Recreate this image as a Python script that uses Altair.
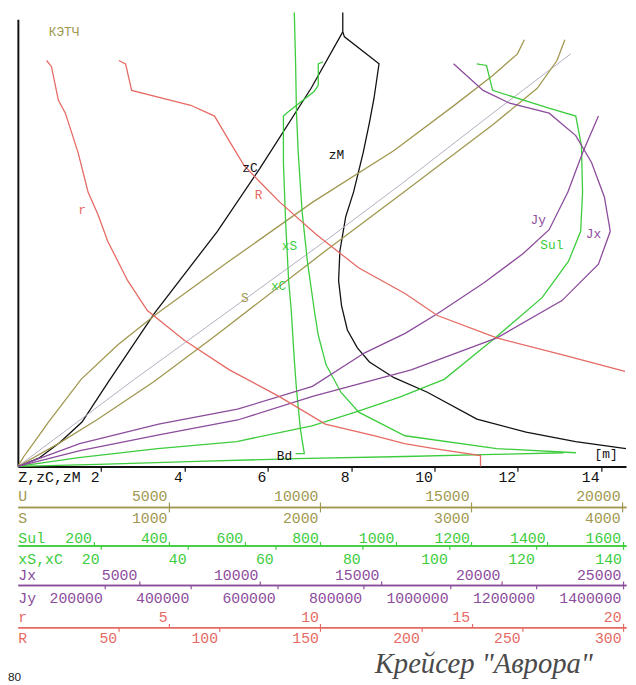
import altair as alt
import pandas as pd

# ---------------- data (each curve in its own unit, T = draft) ----------------
ZC_VAL = [0.02, 0.52, 1.00, 1.54, 2.18, 3.29, 4.79, 5.81, 7.04, 7.80]
ZC_T = [0.0, 0.21, 0.57, 1.07, 2.05, 3.71, 5.67, 7.19, 9.12, 10.48]

ZM_VAL = [7.80, 7.80, 7.84, 8.67, 8.55, 8.44, 8.29, 8.06, 7.87, 7.73, 7.70, 7.77, 7.91,
          8.15, 8.44, 9.03, 9.83, 11.02, 12.20, 13.39, 14.60]
ZM_T = [10.95, 10.48, 10.36, 9.71, 8.88, 8.29, 7.57, 6.62, 6.02, 5.19, 4.48, 3.88, 3.29,
        2.86, 2.52, 2.14, 1.79, 1.14, 0.83, 0.60, 0.43]

U_VAL = [0, 196, 458, 1013, 2092, 3301, 4608, 6895, 9771, 12451, 14412, 15719, 16536, 16765]
U_T = [0, 0.24, 0.50, 1.07, 2.10, 2.93, 3.69, 4.90, 6.38, 7.62, 8.69, 9.43, 9.95, 10.29]

V_VAL = [0, 3856, 7320, 10163, 12778, 15719, 18301]
V_T = [0, 2.10, 3.93, 5.43, 6.86, 8.52, 9.95]

S_VAL = [0, 268, 529, 902, 1314, 2033, 2556, 3144, 3438, 3569, 3621]
S_T = [0, 0.55, 1.14, 2.05, 3.17, 5.19, 6.62, 8.24, 9.12, 9.79, 10.29]

SUL_VAL = [0, 161, 370, 579, 778, 893, 1010, 1128, 1256, 1387, 1457, 1489, 1494, 1491,
           1476, 1405, 1256, 1240, 1214]
SUL_T = [0, 0.21, 0.43, 0.60, 0.98, 1.31, 1.67, 2.10, 3.05, 4.07, 4.95, 5.67, 6.62, 7.74,
         8.45, 8.64, 9.07, 9.67, 9.71]

BD_VAL = [0, 213, 474, 736, 1023, 1259, 1444]
BD_T = [0, 0.05, 0.12, 0.19, 0.24, 0.29, 0.33]

XS_VAL = [71.0, 69.9, 69.9, 69.0, 62.6, 61.9, 61.9, 62.4, 63.1, 63.7, 64.4, 64.9, 65.8, 66.7, 64.7]
XS_T = [9.76, 9.71, 9.19, 9.05, 8.52, 8.45, 7.33, 5.90, 4.48, 3.76, 2.57, 1.86, 0.90, 0.31, 0.31]

XC_VAL = [64.4, 64.7, 64.9, 65.3, 66.2, 67.4, 69.0, 69.9, 71.7, 75.1, 79.2, 89.8, 110.9, 129.1]
XC_T = [10.95, 9.71, 8.52, 7.57, 6.14, 4.95, 3.76, 3.17, 2.45, 1.79, 1.31, 0.74, 0.43, 0.33]

JX_VAL = [0, 2566, 5824, 9083, 12178, 16251, 19795, 22483, 23990, 24479, 24235, 23705,
          23053, 21953, 20324, 19224, 18003]
JX_T = [0, 0.38, 0.76, 1.12, 1.69, 2.33, 3.10, 4.00, 4.88, 5.67, 6.50, 7.33, 7.98, 8.52,
        8.76, 9.07, 9.71]

JY_VAL = [0, 143000, 325600, 508100, 681500, 802400, 896000, 971300, 1078500, 1169800,
          1229100, 1272500, 1306700, 1343200]
JY_T = [0, 0.55, 1.02, 1.38, 1.93, 2.74, 3.21, 3.69, 4.43, 5.14, 5.71, 6.62, 7.57, 8.45]

RS_VAL = [0.95, 1.11, 1.34, 1.57, 1.99, 2.32, 2.65, 2.97, 3.63, 4.28, 5.49, 6.99, 8.63,
          10.16, 11.80, 12.78, 13.76, 15.29, 15.29]
RS_T = [9.79, 9.64, 8.83, 8.52, 7.57, 6.62, 6.07, 5.43, 4.48, 3.76, 3.05, 2.33, 1.69,
        1.02, 0.74, 0.55, 0.43, 0.26, 0]

RL_VAL = [50.0, 53.4, 56.4, 75.9, 85.7, 97.5, 105.3, 112.1, 120.0, 129.7, 147.8, 168.9,
          191.9, 208.0, 237.4, 270.1, 301.0]
RL_T = [9.79, 9.71, 9.07, 8.83, 8.71, 8.45, 7.81, 7.26, 6.86, 6.38, 5.60, 4.79, 4.17,
        3.64, 3.10, 2.69, 2.29]

# axis tick values
Z_TICKS = [2, 4, 6, 8, 10, 12, 14]
U_TICKS = [5000, 10000, 15000, 20000]
S_TICKS = [1000, 2000, 3000, 4000]
SUL_TICKS = [200, 400, 600, 800, 1000, 1200, 1400, 1600]
XSC_TICKS = [20, 40, 60, 80, 100, 120, 140]
JX_TICKS = [5000, 10000, 15000, 20000, 25000]
JY_TICKS = [200000, 400000, 600000, 800000, 1000000, 1200000, 1400000]
RS_TICKS = [5, 10, 15, 20]
RL_TICKS = [50, 100, 150, 200, 250, 300]

# in-plot labels (positioned in metres / draft)
LABEL_TEXT = ["КЭТЧ", "r", "R", "zC", "zM", "xS", "xC", "S", "Jy", "Jx", "Sul", "Bd", "[m]"]
LABEL_Z = [1.11, 1.54, 5.78, 5.57, 7.65, 6.52, 6.26, 5.45, 12.49, 13.82, 12.82, 6.40, 14.12]
LABEL_T = [10.48, 6.19, 6.55, 7.19, 7.50, 5.31, 4.36, 4.07, 5.95, 5.60, 5.33, 0.24, 0.29]
LABEL_GROUP = ["olive", "red", "red", "black", "black", "green", "green", "olive",
               "purple", "purple", "green", "black", "black"]

TITLE = ['Крейсер "Аврора"']
CORNER = ["80"]

# ---------------- style ----------------
BLACK = "#111111"
OLIVE = "#a09850"
GRAY = "#b4aec0"
GREEN = "#3dcc3d"
PURPLE = "#8c4c9c"
RED = "#e66a64"
MONO = "Liberation Mono"

Z_DOM = [0, 14.6]
U_DOM = [0, 20130]
S_DOM = [0, 4026]
SUL_DOM = [0, 1609]
XSC_DOM = [0.9, 140.6]
JX_DOM = [0, 25130]
JY_DOM = [0, 1407000]
RS_DOM = [0, 20.1]
RL_DOM = [0, 301.5]

W, H = 616, 453

y_axis = alt.Axis(domain=True, domainColor=BLACK, domainWidth=2, ticks=False,
                  labels=False, grid=False, title=None)
Y = alt.Y("T:Q", scale=alt.Scale(domain=[0, 10.786], nice=False, zero=False), axis=y_axis)


def axis(orient, offset, values, title, color, tick, pad, title_y, width=1.5):
    return alt.Axis(orient=orient, offset=offset, values=values, title=title,
                    titleX=0, titleY=title_y, titleAlign="left", titleAngle=0,
                    titleBaseline="middle", titleFont=MONO, titleFontSize=15,
                    titleFontWeight="normal", titleColor=color,
                    domainColor=color, domainWidth=width, tickColor=color, tickSize=tick,
                    tickWidth=1.2, labelColor=color, labelFont=MONO, labelFontSize=15,
                    labelAlign="right", labelOffset=-2, labelBaseline="middle",
                    labelPadding=pad, labelOverlap=False, labelFlush=False, grid=False,
                    format="d")


def frame(vals, ts):
    return pd.DataFrame({"v": vals, "T": ts, "i": list(range(len(vals)))})


def curve(vals, ts, dom, color, ax=None, width=1.3):
    if ax is None:
        xenc = alt.X("v:Q", scale=alt.Scale(domain=dom, nice=False, zero=False), axis=None)
    else:
        xenc = alt.X("v:Q", scale=alt.Scale(domain=dom, nice=False, zero=False), axis=ax)
    return alt.Chart(frame(vals, ts)).mark_line(color=color, strokeWidth=width).encode(
        x=xenc, y=Y, order="i:Q")


layers = [
    curve(ZC_VAL, ZC_T, Z_DOM, BLACK,
          axis("bottom", 0, Z_TICKS, "Z,zC,zM", BLACK, 5, 5, 10, width=2)),
    curve(ZM_VAL, ZM_T, Z_DOM, BLACK),
    curve(U_VAL, U_T, U_DOM, OLIVE,
          axis("top", -(509 - 15), U_TICKS, "U", OLIVE, 5, 7, -12)),
    curve(V_VAL, V_T, U_DOM, GRAY, width=1.0),
    curve(S_VAL, S_T, S_DOM, OLIVE,
          axis("bottom", 509 - 468, S_TICKS, "S", OLIVE, 5, 6, 11)),
    curve(SUL_VAL, SUL_T, SUL_DOM, GREEN,
          axis("top", -(548 - 15), SUL_TICKS, "Sul", GREEN, 4, 4, -8)),
    curve(BD_VAL, BD_T, SUL_DOM, GREEN),
    curve(XS_VAL, XS_T, XSC_DOM, GREEN,
          axis("bottom", 548 - 468, XSC_TICKS, "xS,xC", GREEN, 4, 9, 13)),
    curve(XC_VAL, XC_T, XSC_DOM, GREEN),
    curve(JX_VAL, JX_T, JX_DOM, PURPLE,
          axis("top", -(588 - 15), JX_TICKS, "Jx", PURPLE, 4, 6, -10)),
    curve(JY_VAL, JY_T, JY_DOM, PURPLE,
          axis("bottom", 588 - 468, JY_TICKS, "Jy", PURPLE, 4, 9, 13)),
    curve(RS_VAL, RS_T, RS_DOM, RED,
          axis("top", -(631 - 15), RS_TICKS, "r", RED, 4, 7, -11)),
    curve(RL_VAL, RL_T, RL_DOM, RED,
          axis("bottom", 631 - 468, RL_TICKS, "R", RED, 4, 6, 10)),
]

labels = alt.Chart(pd.DataFrame({"t": LABEL_TEXT, "v": LABEL_Z, "T": LABEL_T,
                                 "g": LABEL_GROUP})).mark_text(
    font=MONO, fontSize=13, baseline="middle", align="center").encode(
    x=alt.X("v:Q", scale=alt.Scale(domain=Z_DOM, nice=False, zero=False), axis=None),
    y=Y,
    text="t:N",
    color=alt.Color("g:N", scale=alt.Scale(domain=["black", "olive", "green", "purple", "red"],
                                           range=[BLACK, OLIVE, GREEN, PURPLE, RED]),
                    legend=None))

corner = alt.Chart(pd.DataFrame({"t": CORNER})).mark_text(
    align="left", baseline="middle", font="Liberation Sans", fontSize=12,
    color="#222222").encode(
    text="t:N", x=alt.value(-10), y=alt.value(666))

title = alt.Chart(pd.DataFrame({"t": TITLE})).mark_text(
    align="center", baseline="middle", font="Liberation Serif", fontStyle="italic",
    fontSize=29, color="#4a4a4a").encode(
    text="t:N", x=alt.value(472), y=alt.value(653))

chart = alt.layer(*layers, labels, corner, title).resolve_scale(
    x="independent", color="independent").resolve_axis(x="independent").properties(
    width=W, height=H,
    padding={"left": 10, "top": 7, "right": 2, "bottom": 215},
    autosize=alt.AutoSizeParams(type="none"),
).configure_view(stroke=None)

chart.save("out.html", embed_options={"renderer": "svg", "actions": False})
